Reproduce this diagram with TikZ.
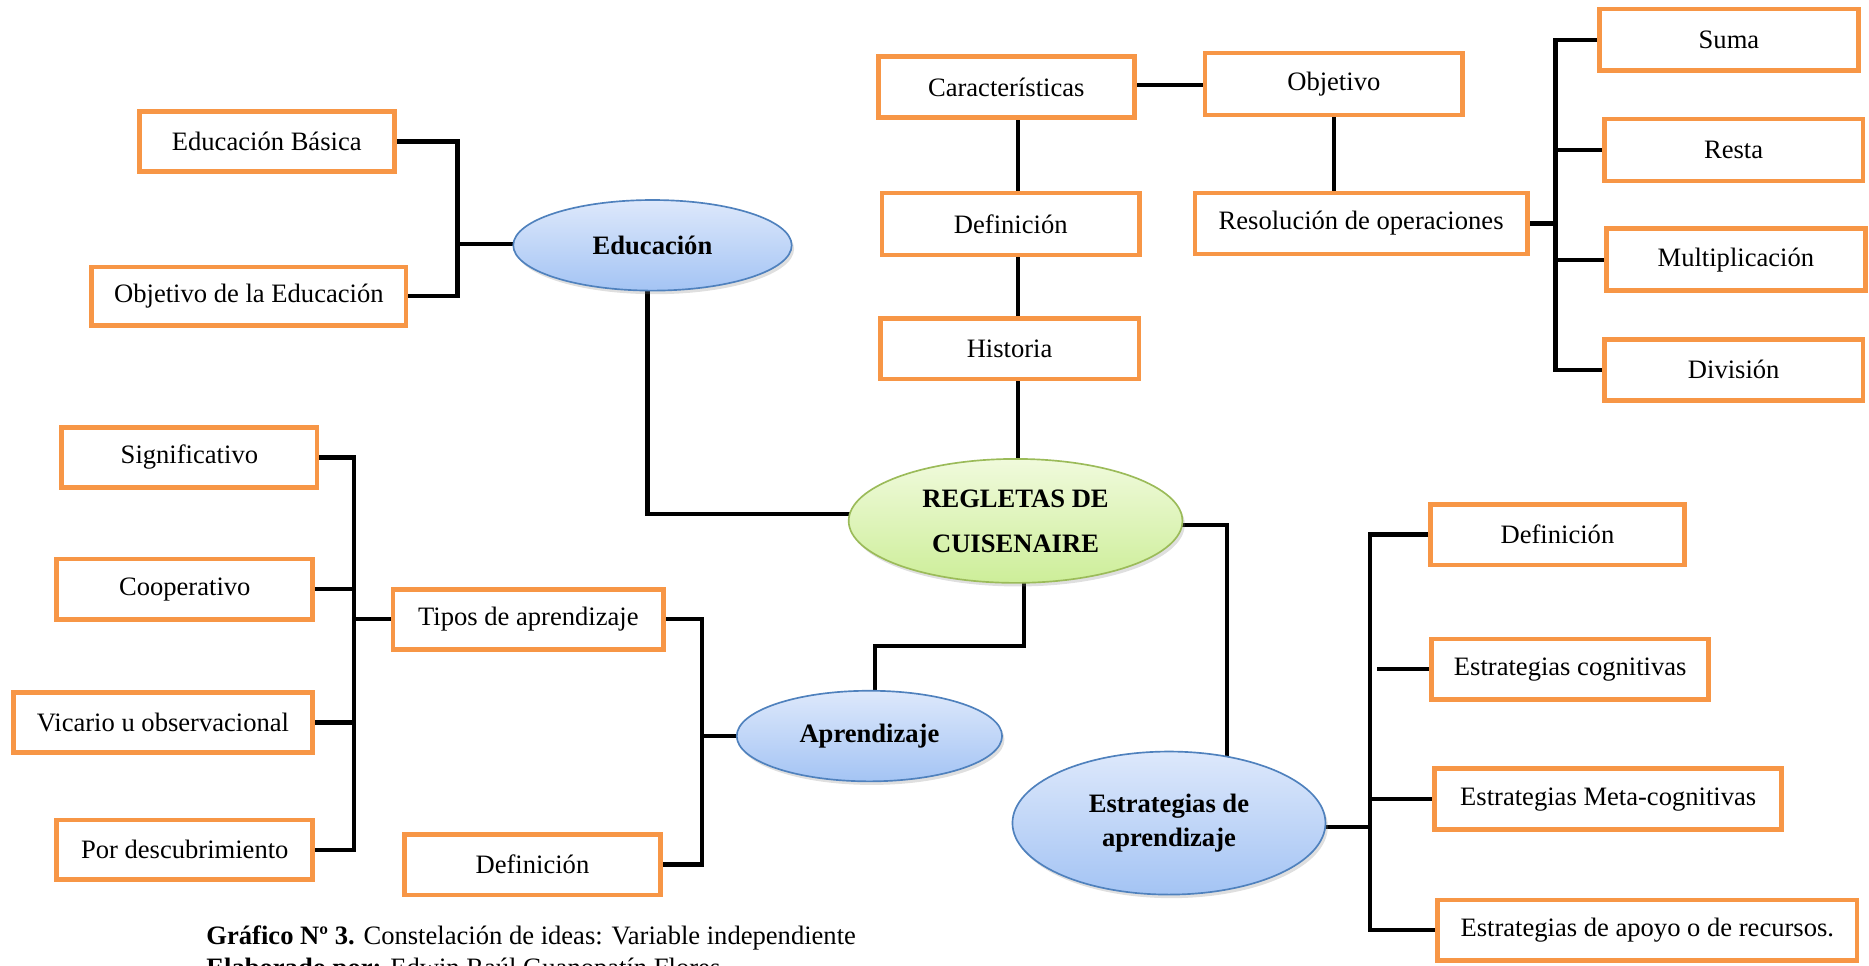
\documentclass[tikz,border=0pt]{standalone}
\usepackage{fontspec}
\setmainfont{Liberation Serif}
\usetikzlibrary{shapes.geometric,shadows}
\pgfdeclarelayer{bg}
\pgfsetlayers{bg,main}
\definecolor{orng}{HTML}{F79646}
\definecolor{bluetop}{HTML}{DDE8FB}
\definecolor{bluebot}{HTML}{A4C4F4}
\definecolor{blueline}{HTML}{4F81BD}
\definecolor{greentop}{HTML}{F0FADC}
\definecolor{greenbot}{HTML}{CDEE99}
\definecolor{greenline}{HTML}{9BBB59}
\begin{document}
\begin{tikzpicture}[x=0.5pt,y=-0.5pt,
  box/.style 2 args={rectangle, draw=orng, line width=2pt, fill=white, inner sep=0pt,
    minimum width=(#1-4)*0.5pt, minimum height=(#2-4)*0.5pt,
    font=\fontsize{11.15pt}{13.4pt}\selectfont,
    drop shadow={shadow xshift=0.8pt, shadow yshift=-0.8pt, opacity=0.2}},
  ell/.style 2 args={ellipse, line width=0.7pt, inner sep=0pt, align=center,
    minimum width=#1*0.5pt, minimum height=#2*0.5pt,
    drop shadow={shadow xshift=1pt, shadow yshift=-1.5pt, opacity=0.25}},
  blueell/.style={draw=blueline, top color=bluetop, bottom color=bluebot},
  greenell/.style={draw=greenline, top color=greentop, bottom color=greenbot},
  conn/.style={line width=1.8pt, line join=miter, draw=black},
  capt/.style={anchor=base west, inner sep=0pt, font=\fontsize{11.15pt}{13.4pt}\selectfont}
]
\useasboundingbox (0,0) rectangle (1568,810);
\clip (0,0) rectangle (1568,810);

% boxes
\node[box={218}{54}] (eb) at (223.8,118.6) {Educación Básica};
\node[box={267.5}{53}] (oe) at (208.8,248.5) {Objetivo de la Educación};
\node[box={219}{55.4}] (car) at (844.2,73) {Características};
\node[box={220}{56}] (obj) at (1119,70.5) {Objetivo};
\node[box={220}{56}] (def1) at (848,188) {Definición};
\node[box={221}{55}] (his) at (847,292.5) {Historia};
\node[box={282.7}{55}] (res) at (1141.9,187.5) {Resolución de operaciones};
\node[box={221}{55.4}] (suma) at (1450.5,33.3) {Suma};
\node[box={221}{56}] (resta) at (1454.4,125.9) {Resta};
\node[box={221}{56}] (mult) at (1456.3,218) {Multiplicación};
\node[box={221}{55.5}] (div) at (1454.5,310.3) {División};
\node[box={218}{54.5}] (sig) at (158.9,383.8) {Significativo};
\node[box={218.7}{54.5}] (coo) at (155,494.3) {Cooperativo};
\node[box={255.3}{54.4}] (vic) at (136.7,606.2) {Vicario u observacional};
\node[box={218.7}{54}] (pod) at (155,713) {Por descubrimiento};
\node[box={231.3}{54.5}] (tip) at (443.3,519.5) {Tipos de aprendizaje};
\node[box={219}{55}] (def2) at (446.7,725.3) {Definición};
\node[box={217.6}{55}] (def3) at (1306.6,448.5) {Definición};
\node[box={236.5}{54.7}] (ec) at (1317.3,561.4) {Estrategias cognitivas};
\node[box={295.2}{55}] (emc) at (1349.2,670.5) {Estrategias Meta-cognitivas};
\node[box={356}{55}] (ea) at (1382,780.5) {Estrategias de apoyo o de recursos.};

% ellipses
\node[ell={233.6}{76}, blueell, font=\fontsize{11.15pt}{13.4pt}\selectfont\bfseries] (edu) at (547.4,205.8) {Educación};
\node[ell={280}{104}, greenell, font=\fontsize{11.15pt}{18.85pt}\selectfont\bfseries] (reg) at (852,437) {REGLETAS DE\\CUISENAIRE};
\node[ell={222.6}{76}, blueell, font=\fontsize{11.15pt}{13.4pt}\selectfont\bfseries] (apr) at (729.4,617.5) {Aprendizaje};
\node[ell={262.6}{120}, blueell, font=\fontsize{11.15pt}{14pt}\selectfont\bfseries] (est) at (980.7,690.5) {Estrategias de\\aprendizaje};

% connector coordinates
\coordinate (j1) at (383.7,204.5);
\coordinate (j2) at (543.3,431.2);
\coordinate (j3) at (950,71.5);
\coordinate (j4) at (854,0);
\coordinate (j5) at (1305,186);
\coordinate (j6) at (1029.5,440.4);
\coordinate (j7) at (859,542);
\coordinate (j8) at (733.8,542);
\coordinate (j9) at (589,620);
\coordinate (j10) at (297,500);
\coordinate (j11) at (1149.4,693.5);
\coordinate (j12) at (1155,560);

\begin{pgfonlayer}{bg}
\draw[conn] (eb.center) -| (j1) |- (oe.center);
\draw[conn] (j1) -- (j1 -| edu.center);
\draw[conn] (j2 |- edu.center) -- (j2) -- (j2 -| reg.center);
\draw[conn] (j3 -| car.center) -- (j3 -| obj.center);
\draw[conn] (j4 |- car.center) -- (j4 |- reg.center);
\draw[conn] (obj.center) -- (obj.center |- res.center);
\draw[conn] (res.center) -- (res.center -| j5);
\draw[conn] (suma.center) -| (j5) |- (div.center);
\draw[conn] (resta.center) -- (resta.center -| j5);
\draw[conn] (mult.center) -- (mult.center -| j5);
\draw[conn] (j6 -| reg.center) -- (j6) -- (j6 |- est.center);
\draw[conn] (j7 |- reg.center) -- (j7) -- (j8) -- (j8 |- apr.center);
\draw[conn] (tip.center) -| (j9) |- (def2.center);
\draw[conn] (apr.center) -- (apr.center -| j9);
\draw[conn] (sig.center) -| (j10) |- (pod.center);
\draw[conn] (coo.center) -- (coo.center -| j10);
\draw[conn] (vic.center) -- (vic.center -| j10);
\draw[conn] (tip.center) -- (tip.center -| j10);
\draw[conn] (j11 -| est.center) -- (j11);
\draw[conn] (def3.center) -| (j11) |- (ea.center);
\draw[conn] (emc.center) -- (emc.center -| j11);
\draw[conn] (ec.center) -- (ec.center -| j12);
\end{pgfonlayer}

% caption
\node[capt] (cap1) at (172.8,792) {\textbf{Gráfico Nº 3.} Constelación de ideas: Variable independiente};
\node[capt] (cap2) at (172.8,819.4) {\textbf{Elaborado por:} Edwin Raúl Guanopatín Flores};
\end{tikzpicture}
\end{document}
